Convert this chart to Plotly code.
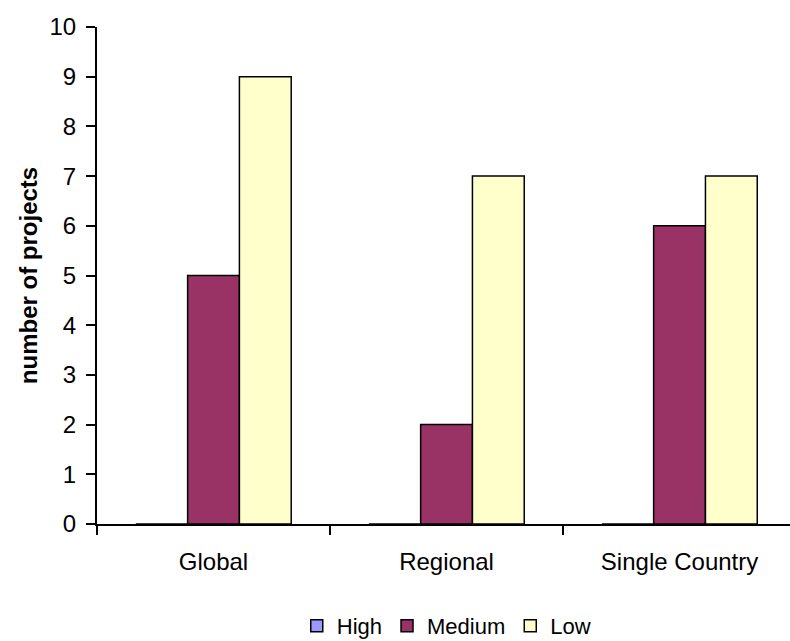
import plotly.graph_objects as go

categories = ["Global", "Regional", "Single Country"]
series_names = ["High", "Medium", "Low"]
high = [0, 0, 0]
medium = [5, 2, 6]
low = [9, 7, 7]
colors = ["#9999FF", "#993366", "#FFFFCC"]
y_ticks = list(range(0, 11))

FONT = "Liberation Sans, Arial, sans-serif"

fig = go.Figure()
for name, vals, col in zip(series_names, [high, medium, low], colors):
    fig.add_trace(go.Bar(
        x=categories, y=vals, name=name,
        marker=dict(color=col, line=dict(color="black", width=1.5)),
    ))

fig.update_layout(
    width=790, height=641,
    margin=dict(l=97, r=0, t=27, b=117, autoexpand=False),
    paper_bgcolor="white", plot_bgcolor="white",
    barmode="group", bargap=0.333, bargroupgap=0,
    font=dict(family=FONT, size=24, color="black"),
    showlegend=True,
    legend=dict(orientation="h", x=0.504, xanchor="center", y=-0.205, yanchor="middle",
                font=dict(size=22), traceorder="normal", itemwidth=30),
)
fig.update_xaxes(
    type="category", range=[-0.5, 2.474], automargin=False,
    showline=True, linecolor="black", linewidth=2,
    ticks="outside", tickson="boundaries", ticklen=9, tickwidth=1.5, tickcolor="black",
    ticklabelstandoff=15,
    showgrid=False, zeroline=False,
)
fig.update_yaxes(
    range=[0, 10], tickvals=y_ticks, automargin=False,
    showline=True, linecolor="black", linewidth=2,
    ticks="outside", ticklen=9, tickwidth=1.5, tickcolor="black",
    ticklabelstandoff=5,
    showgrid=False, zeroline=False,
    title=dict(text="<b>number of projects</b>", font=dict(size=24), standoff=5),
)
fig.write_html(
    "out.html",
    config={"displayModeBar": False},
    post_script="document.body.style.margin='0';document.body.style.padding='0';",
)
